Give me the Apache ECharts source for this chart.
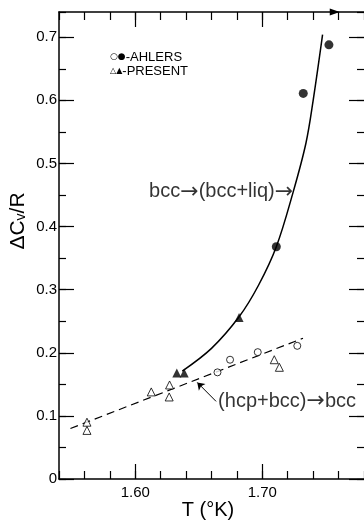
<!DOCTYPE html>
<html><head><meta charset="utf-8">
<script src="https://cdn.jsdelivr.net/npm/echarts@6/dist/echarts.min.js"></script>
<style>html,body{margin:0;padding:0;background:#fff}#c{width:364px;height:520px}</style>
</head><body><div id="c"></div>
<script>
// ---- data ----
const ahlersOpen = [[1.6647,0.169],[1.6746,0.189],[1.6964,0.201],[1.7275,0.211]];
const ahlersFilled = [[1.711,0.368],[1.7322,0.611],[1.7524,0.688]];
const presentOpen = [[1.562,0.090],[1.562,0.077],[1.6126,0.138],[1.627,0.149],[1.6267,0.130],[1.7094,0.189],[1.7134,0.177]];
const presentFilled = [[1.6327,0.168],[1.6385,0.168],[1.6817,0.256]];
const bccCurve = [[1.637,0.171],[1.660,0.207],[1.6817,0.257],[1.697,0.307],[1.711,0.368],[1.7243,0.455],[1.7343,0.532],[1.740,0.600],[1.7474,0.704]];
const hcpLine = [[1.549,0.080],[1.732,0.223]];
const xMajorTicks = [1.60, 1.70];
const yMajorTicks = [0, 0.1, 0.2, 0.3, 0.4, 0.5, 0.6, 0.7];
const annotTexts = ['{t|bcc}{a|\u2192}{t|(bcc+liq)}{a|\u2192}', '{t|(hcp+bcc)}{a|\u2192}{t|bcc}'];
const annotAnchors = [[1.7243,0.455],[1.6652,0.1225]];
const hcpArrow = [[1.6636,0.123],[1.6488,0.153]];
const meltArrow = [1.757, 0.74];
const legendTexts = ['-AHLERS', '-PRESENT'];
const xTitle = 'T (\u00B0K)';

const FONT = '"Liberation Sans", Arial, sans-serif';
const NARROW = '"Liberation Sans Narrow", "Liberation Sans", Arial, sans-serif';
const X0 = 1.54, X1 = 1.78, Y0 = 0, Y1 = 0.74;
const blk = '#000';
const isIn = (v, arr) => arr.some(m => Math.abs(m - v) < 1e-6);

function xAx(grid, pos, major, labels) {
  const a = {
    type: 'value', gridIndex: grid, position: pos, min: X0, max: X1, interval: 0.02,
    axisLine: {show: !major, onZero: false, lineStyle: {color: blk, width: 1.5}},
    axisTick: {show: true, inside: true, length: major ? 15 : 8, lineStyle: {color: blk, width: 1.2}},
    axisLabel: {show: false},
    splitLine: {show: false}
  };
  if (major) a.axisTick.customValues = xMajorTicks;
  if (labels) a.axisLabel = {show: true, formatter: v => (isIn(v, xMajorTicks) ? v.toFixed(2) : ''),
    margin: 6, fontSize: 15, color: blk, fontFamily: FONT};
  return a;
}
function yAx(grid, pos, major, labels) {
  const a = {
    type: 'value', gridIndex: grid, position: pos, min: Y0, max: Y1, interval: 0.05,
    axisLine: {show: !major && pos === 'left', onZero: false, lineStyle: {color: blk, width: 1.5}},
    axisTick: {show: true, inside: true, length: major ? 15 : 7, lineStyle: {color: blk, width: 1.2}},
    axisLabel: {show: false},
    splitLine: {show: false}
  };
  if (major) a.axisTick.customValues = yMajorTicks;
  if (labels) a.axisLabel = {show: true,
    formatter: v => (isIn(v, yMajorTicks) ? (v === 0 ? '0' : v.toFixed(1)) : ''),
    margin: 2, fontSize: 15, color: blk, fontFamily: FONT};
  return a;
}

const chart = echarts.init(document.getElementById('c'), null, {renderer: 'canvas'});
const sc = (data, symbol, size, filled) => ({
  type: 'scatter', data, symbol, symbolSize: size, xAxisIndex: 0, yAxisIndex: 0, z: 5,
  itemStyle: filled ? {color: blk} : {color: '#fff', borderColor: blk, borderWidth: 1}
});
const annRich = {
  t: {fontSize: 20, color: blk, fontFamily: FONT},
  a: {fontSize: 22, color: blk, fontFamily: '"DejaVu Sans", sans-serif'}
};
const gridBox = {left: 59, right: 0, top: 12, bottom: 41, containLabel: false, outerBoundsMode: 'none'};

chart.setOption({
  animation: false,
  backgroundColor: '#fff',
  grid: [Object.assign({}, gridBox), Object.assign({}, gridBox)],
  xAxis: [xAx(0, 'bottom', false, true), xAx(0, 'top', false, false),
          xAx(1, 'bottom', true, false), xAx(1, 'top', true, false)],
  yAxis: [yAx(0, 'left', false, true), yAx(0, 'right', false, false),
          yAx(1, 'left', true, false), yAx(1, 'right', true, false)],
  series: [
    {type: 'line', data: bccCurve, smooth: 0.35, showSymbol: false, xAxisIndex: 0, yAxisIndex: 0,
     lineStyle: {color: blk, width: 1.5}},
    {type: 'line', data: hcpLine, showSymbol: false, xAxisIndex: 0, yAxisIndex: 0,
     lineStyle: {color: blk, width: 1.2, type: [8, 5]},
     markLine: {silent: true, symbol: ['none', 'arrow'], symbolSize: 7, label: {show: false},
       lineStyle: {color: blk, width: 1, type: 'solid', curveness: 0.4},
       data: [[{coord: hcpArrow[0]}, {coord: hcpArrow[1]}]]},
     markPoint: {silent: true, symbol: 'triangle', symbolSize: [7, 10], symbolRotate: -90,
       itemStyle: {color: blk}, label: {show: false}, data: [{coord: meltArrow}]}},
    sc(ahlersOpen, 'circle', 7, false),
    sc(ahlersFilled, 'circle', 9, true),
    sc(presentOpen, 'triangle', 8, false),
    sc(presentFilled, 'triangle', 9, true),
    {type: 'scatter', symbolSize: 0, xAxisIndex: 0, yAxisIndex: 0,
     data: annotAnchors.map((p, i) => ({value: p, label: {show: true, position: i === 0 ? 'left' : 'right',
       distance: 0, formatter: annotTexts[i], rich: annRich}}))}
  ],
  graphic: [
    {type: 'text', x: 208, y: 510,
     style: {text: xTitle, align: 'center', verticalAlign: 'middle', fontSize: 20, fontFamily: FONT, fill: blk}},
    {type: 'text', x: 18, y: 221, rotation: Math.PI / 2,
     style: {text: '{a|\u0394C}{b|v}{a|/R}', align: 'center', verticalAlign: 'middle',
       rich: {a: {fontSize: 21, fontFamily: FONT, fill: blk},
              b: {fontSize: 14, fontFamily: FONT, fill: blk, verticalAlign: 'bottom'}}}},
    {type: 'text', x: 110, y: 57,
     style: {text: '{s|\u25CB\u25CF}{t|' + legendTexts[0] + '}', verticalAlign: 'middle',
       rich: {s: {fontSize: 9, fontFamily: '"DejaVu Sans", sans-serif', fill: blk},
              t: {fontSize: 13, fontFamily: NARROW, fill: blk}}}},
    {type: 'text', x: 110, y: 71,
     style: {text: '{s|\u25B3\u25B2}{t|' + legendTexts[1] + '}', verticalAlign: 'middle',
       rich: {s: {fontSize: 8, fontFamily: '"DejaVu Sans", sans-serif', fill: blk},
              t: {fontSize: 13, fontFamily: NARROW, fill: blk}}}}
  ]
});
</script></body></html>
